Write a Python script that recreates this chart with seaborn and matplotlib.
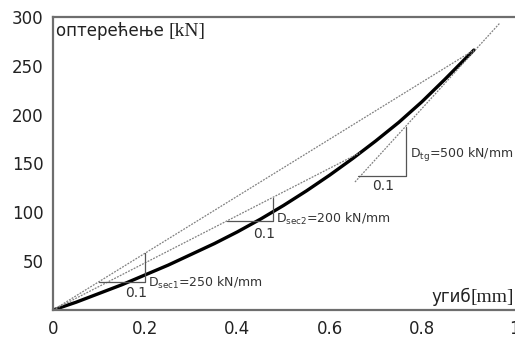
import matplotlib
matplotlib.use("Agg")
import matplotlib.pyplot as plt
import seaborn as sns
import pandas as pd

# load-deflection curve
deflection = [0, 0.05, 0.1, 0.15, 0.2, 0.25, 0.3, 0.35, 0.4, 0.45, 0.5,
              0.55, 0.6, 0.65, 0.7, 0.75, 0.8, 0.85, 0.913]
load = [0, 8, 17, 26, 36, 46, 57, 68, 80, 93, 107,
        122, 138, 155, 173, 192, 213, 236, 266]

# secant / tangent lines
sec1_x = [0, 0.913]
sec1_y = [0, 266]
sec2_x = [0, 0.666]
sec2_y = [0, 161]
tg_x = [0.655, 0.97]
tg_y = [131, 294]

# slope triangles
tri1_x = [0.1, 0.2, 0.2]
tri1_y = [29, 29, 58]
tri2_x = [0.377, 0.477, 0.477]
tri2_y = [91, 91, 115]
tri3_x = [0.662, 0.766, 0.766]
tri3_y = [137, 137, 187]

x_ticks = [0, 0.2, 0.4, 0.6, 0.8, 1]
x_labels = ["0", "0.2", "0.4", "0.6", "0.8", "1"]
y_ticks = [50, 100, 150, 200, 250, 300]

sns.set_style("white")
plt.rcParams['font.family'] = ['DejaVu Sans']

fig = plt.figure(figsize=(5.15, 3.37), dpi=100)
ax = fig.add_axes([0.103, 0.080, 0.895, 0.870])

thin = dict(color="#808080", linewidth=0.9, linestyle=(0, (1.5, 1)))
tri = dict(color="#555555", linewidth=0.9)

df = pd.DataFrame({"x": deflection, "y": load})
sns.lineplot(data=df, x="x", y="y", ax=ax, color="black", linewidth=2.4,
             sort=False, estimator=None)
sns.lineplot(x=sec1_x, y=sec1_y, ax=ax, estimator=None, **thin)
sns.lineplot(x=sec2_x, y=sec2_y, ax=ax, estimator=None, **thin)
sns.lineplot(x=tg_x, y=tg_y, ax=ax, estimator=None, **thin)
for tx, ty in [(tri1_x, tri1_y), (tri2_x, tri2_y), (tri3_x, tri3_y)]:
    sns.lineplot(x=tx, y=ty, ax=ax, sort=False, estimator=None, **tri)

ax.set_xlim(0, 1)
ax.set_ylim(0, 300)
ax.set_xticks(x_ticks)
ax.set_xticklabels(x_labels)
ax.set_yticks(y_ticks)
ax.tick_params(axis="both", length=0, labelsize=12, colors="#222222")
ax.tick_params(axis="x", pad=7)
ax.tick_params(axis="y", pad=7)
ax.set_xlabel("")
ax.set_ylabel("")

for side in ["left", "top", "bottom"]:
    ax.spines[side].set_color("#6e6e6e")
    ax.spines[side].set_linewidth(1.6)
ax.spines["right"].set_visible(False)

txt = "#333333"
ax.text(0.18, 17, "0.1", fontsize=10, color=txt, ha="center", va="center")
ax.text(0.205, 28, r"$\mathregular{D_{sec1}}$=250 kN/mm", fontsize=9, color=txt, va="center")
ax.text(0.458, 78, "0.1", fontsize=10, color=txt, ha="center", va="center")
ax.text(0.483, 93, r"$\mathregular{D_{sec2}}$=200 kN/mm", fontsize=9, color=txt, va="center")
ax.text(0.716, 127, "0.1", fontsize=10, color=txt, ha="center", va="center")
ax.text(0.775, 159, r"$\mathregular{D_{tg}}$=500 kN/mm", fontsize=9, color=txt, va="center")

# axis captions: cyrillic in sans, units in serif
t1 = ax.text(0.006, 280, "оптерећење ", fontsize=12, color="#222222", va="baseline")
ax.annotate("[kN]", xy=(1, 0), xycoords=t1, fontsize=14, color="#222222",
            family="Liberation Serif", va="bottom")
t2 = ax.text(0.82, 8, "угиб", fontsize=12, color="#222222", va="baseline")
ax.annotate("[mm]", xy=(1, 0), xycoords=t2, fontsize=14, color="#222222",
            family="Liberation Serif", va="bottom")

fig.savefig("out.png", dpi=100)
